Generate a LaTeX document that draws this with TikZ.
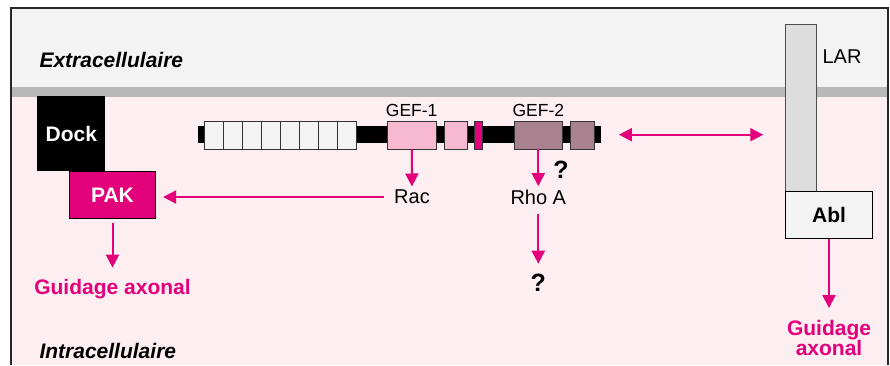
\documentclass[tikz,border=0pt]{standalone}
\usepackage{fontspec}
\setmainfont{Liberation Sans}
\usetikzlibrary{arrows.meta}

\definecolor{extracell}{HTML}{F3F3F3}
\definecolor{membrane}{HTML}{B8B8B8}
\definecolor{intracell}{HTML}{FDEEF1}
\definecolor{gefone}{HTML}{F6B9CF}
\definecolor{geftwo}{HTML}{A8838F}
\definecolor{gdmag}{HTML}{E3007B}
\definecolor{larfill}{HTML}{DDDDDD}

\begin{document}
\begin{tikzpicture}[x=1pt, y=-1pt,
        arr/.style={draw=gdmag, line width=2pt, -{Triangle[length=13pt,width=13pt]}},
        dbl/.style={draw=gdmag, line width=2pt, {Triangle[length=13pt,width=13pt]}-{Triangle[length=13pt,width=13pt]}},
        dom/.style={draw=black!80, line width=0.8pt, inner sep=0pt, minimum height=28pt},
        lbl/.style={font=\fontsize{20}{20}\selectfont},
        geflbl/.style={font=\fontsize{17.5}{18}\selectfont},
        bold/.style={font=\fontsize{21}{20}\selectfont\bfseries},
        quest/.style={font=\fontsize{25}{25}\selectfont\bfseries},
        region/.style={font=\fontsize{21}{20}\selectfont\bfseries\itshape}]

        \useasboundingbox (0,0) rectangle (890,365);

        % compartments
        \fill[extracell] (11,8) rectangle (888,87);
        \fill[membrane] (11,87) rectangle (888,97);
        \fill[intracell] (11,97) rectangle (888,365);
        \draw[line width=1.5pt, black!85] (11,365) -- (11,8) -- (888,8) -- (888,365);

        \node[region, anchor=west] (extra) at (36,59.5) {Extracellulaire};
        \node[region, anchor=west] (intra) at (36,351) {Intracellulaire};

        % Dock / PAK
        \node[fill=black, minimum width=68pt, minimum height=75pt, inner sep=0pt, bold, text=white] (dock) at (71.3,133.7) {Dock};
        \node[draw=black, fill=gdmag, minimum width=86.4pt, minimum height=47pt, inner sep=0pt, line width=0.8pt, bold, text=white] (pak) at (112.5,194.8) {PAK};

        % protein with its domains
        \node[fill=black, minimum width=402.4pt, minimum height=17pt, inner sep=0pt] (bar) at (399.5,134.7) {};
        \foreach \i in {0,...,7}
            \draw[fill=extracell, draw=black!80, line width=0.8pt] ({204+19.1*\i},121) rectangle +(19.1,28);
        \node[dom, fill=gefone, minimum width=48.7pt, label={[geflbl]above:GEF-1}] (gefA) at (411.7,135) {};
        \node[dom, fill=gefone, minimum width=23pt] (gefAb) at (455.8,135) {};
        \node[dom, fill=gdmag, minimum width=7.3pt] (link) at (478.3,135) {};
        \node[dom, fill=geftwo, minimum width=48.7pt, label={[geflbl]above:GEF-2}] (gefB) at (538.3,135) {};
        \node[dom, fill=geftwo, minimum width=23.6pt] (gefBb) at (582.5,135) {};

        % GTPases
        \node[lbl] (rac) at (412,197) {Rac};
        \node[lbl] (rho) at (538.3,197) {Rho A};
        \node[quest] (qA) at (561,170) {?};
        \node[quest] (qB) at (538.3,283) {?};
        \node[bold, text=gdmag] (guidL) at (112.5,289) {Guidage axonal};

        \draw[arr] (gefA) -- (rac);
        \draw[arr] (gefB) -- (rho);
        \draw[arr, shorten <=6pt, shorten >=7pt] (rho) -- (qB);
        \draw[arr, shorten <=7pt, shorten >=7pt] (rac.west) -- (rac.west -| pak.east);
        \draw[arr, shorten <=4pt, shorten >=8pt] (pak) -- (guidL);

        % LAR / Abl
        \node[draw=black!70, fill=larfill, minimum width=30.3pt, minimum height=167.7pt, inner sep=0pt, line width=0.8pt] (lar) at (800.8,107.8) {};
        \node[lbl] (larlbl) at (842,57) {LAR};
        \node[draw=black, fill=extracell, minimum width=86.6pt, minimum height=47pt, inner sep=0pt, line width=0.8pt, bold] (abl) at (829,215.2) {Abl};
        \node[bold, text=gdmag, align=center, anchor=north] (guidR) at (829,317) {Guidage\\axonal};

        \draw[arr, shorten >=9pt] (abl) -- (guidR);
        \draw[dbl, shorten <=18pt, shorten >=22pt] (bar.east) -- (bar.east -| lar.west);
    \end{tikzpicture}
\end{document}
